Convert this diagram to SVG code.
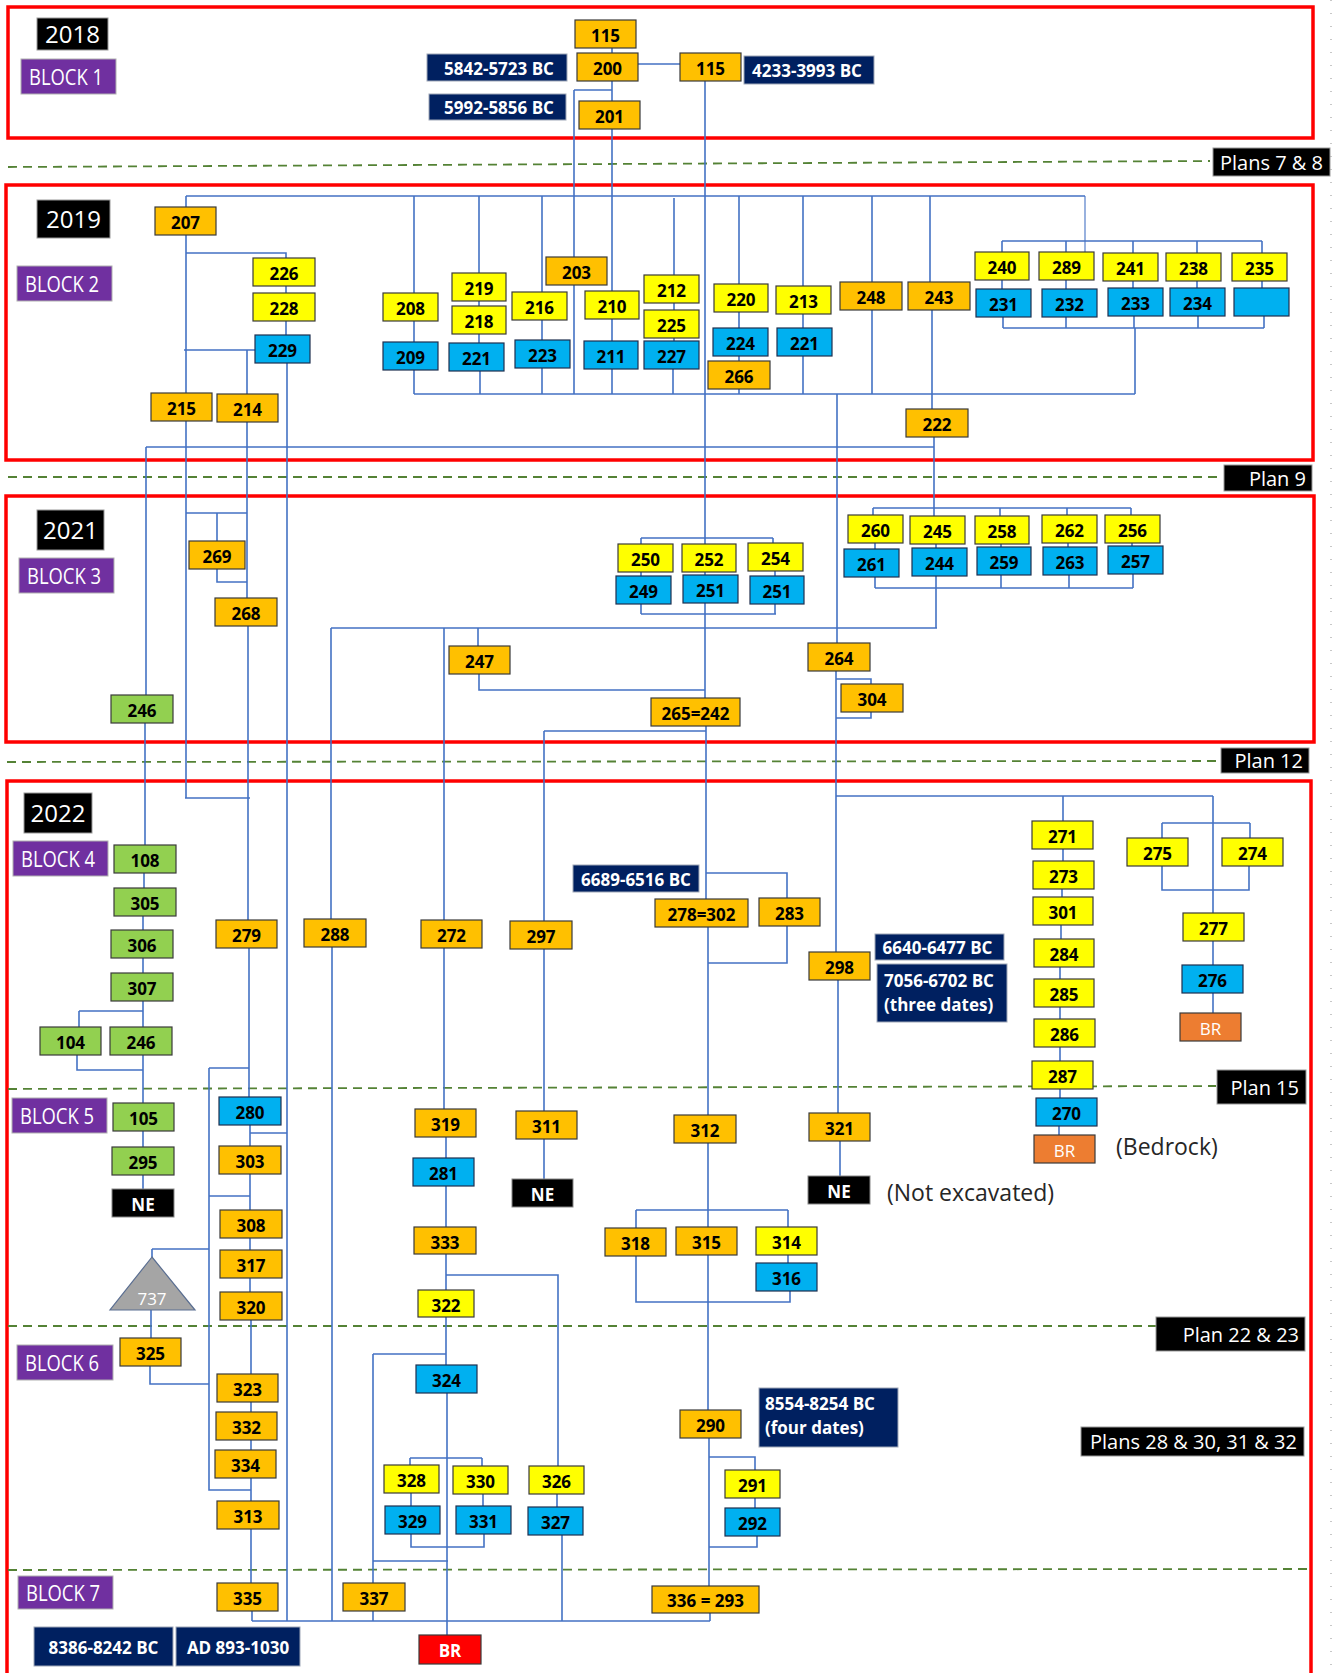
<svg xmlns="http://www.w3.org/2000/svg" width="1333" height="1673" viewBox="0 0 1333 1673">
<style>
.bg{fill:#fff}
.red{fill:none;stroke:#FF0000;stroke-width:3.5}
.dash{fill:none;stroke:#548235;stroke-width:1.8;stroke-dasharray:9 6}
.con{fill:none;stroke:#4472C4;stroke-width:1.6}
.o{fill:#FFC000;stroke:#3a3a3a;stroke-width:1.2}
.y{fill:#FFFF00;stroke:#3a3a3a;stroke-width:1.2}
.b{fill:#00B0F0;stroke:#1f2f4f;stroke-width:1.2}
.g{fill:#92D050;stroke:#3a3a3a;stroke-width:1.2}
.k{fill:#000;stroke:#888;stroke-width:1}
.br{fill:#ED7D31;stroke:#3a3a3a;stroke-width:1.2}
.brr{fill:#FF0000;stroke:#3a3a3a;stroke-width:1.2}
.d{fill:#002060;stroke:#a0a8b8;stroke-width:1}
.p{fill:#7030A0;stroke:#b0b0b0;stroke-width:1}
text{font-family:'Open Sans','Liberation Sans',sans-serif}
.t{font-weight:700;font-size:17px;text-anchor:middle;fill:#000}
.tw{font-weight:700;font-size:17px;text-anchor:middle;fill:#fff}
.tl{font-weight:700;font-size:17px;fill:#fff}
.tr{font-size:17px;text-anchor:middle;fill:#fff}
.yr{font-size:24px;text-anchor:middle;fill:#fff}
.bl{font-size:22px;text-anchor:middle;fill:#fff}
.pl{font-size:20px;text-anchor:end;fill:#fff}
.note{font-size:23px;fill:#262626}
</style>
<rect class="bg" x="0" y="0" width="1333" height="1673"/>
<g id="frames">
<rect class="red" x="8" y="7" width="1305" height="131"/>
<rect class="red" x="6" y="185" width="1307" height="275"/>
<rect class="red" x="6" y="496" width="1308" height="246"/>
<rect class="red" x="7" y="781" width="1304" height="900"/>
<line x1="1331" y1="0" x2="1331" y2="1673" stroke="#c8c8c8" stroke-width="2" stroke-dasharray="1 12"/>
</g>
<g id="plan-lines">
<line class="dash" x1="8" y1="167" x2="1210" y2="161"/>
<line class="dash" x1="8" y1="477" x2="1222" y2="477"/>
<line class="dash" x1="7" y1="762" x2="1220" y2="761"/>
<line class="dash" x1="8" y1="1089" x2="1216" y2="1086"/>
<line class="dash" x1="8" y1="1326" x2="1156" y2="1326"/>
<line class="dash" x1="8" y1="1570" x2="1311" y2="1569"/>
</g>
<g id="connectors" class="con">
<path d="M612 48V53M612 81V101M574 90H612M574 90V257M638 64H680M705 81V544M705 572V575M705 603V698M706 726V899M612 129V291"/>
<path d="M186 196H1085M186 196V207M414 196V293M479 196V273M542 196V292M674 198V275M739 196V284M803 196V286M872 196V282M930 196V282"/>
<path d="M1085 196V252" stroke-width="1.1"/>
<path d="M186 235V393M186 421V798M186 253H286V258M286 286V293M286 321V335M184 350H255M247 350V394M287 363V1621M247 422V598M186 513H247M217 513V541M217 569V582H247M248 626V920M185 798H250"/>
<path d="M414 321V342M414 370V394M414 394H1135M479 301V306M479 334V343M480 371V394M542 320V340M542 368V394M574 285V394M612 319V341M612 369V394M674 303V310M674 338V341M673 369V394M739 312V328M739 356V361M739 389V394M803 314V328M803 356V394M872 310V394M932 310V409"/>
<path d="M1002 241H1262M1002 241V252M1066 241V252M1133 241V253M1197 241V253M1262 241V253M1002 280V289M1066 280V289M1133 281V288M1197 281V288M1262 281V288M1003 317V328M1066 317V328M1134 316V328M1198 316V328M1264 316V328M1003 328H1264M1135 328V394"/>
<path d="M837 394V643M934 437V516M146 447H934M146 447V695M145 723V845"/>
<path d="M641 538H773M641 538V544M773 538V543M641 572V576M775 571V576M641 604V614M775 604V614M641 614H776"/>
<path d="M873 508H1131M873 508V515M1000 508V516M1067 508V515M1131 508V515M875 543V549M936 544V548M1001 544V547M1068 543V547M1132 543V546M875 577V588M1001 575V588M1069 575V588M1133 574V588M936 576V628M875 588H1133"/>
<path d="M331 628H937M331 628V919M332 947V1621M444 628V920M478 628V646M479 674V690H705M544 731H706M544 731V921M836 671V952M836 679H871V684M871 712V718H836"/>
<path d="M836 796H1213M1063 796V821M1213 796V913M1162 823H1250M1162 823V838M1250 823V838M1162 866V890H1249V866"/>
<path d="M144 873V888M143 916V930M143 958V973M143 1001V1027M79 1011H143M79 1011V1027M77 1055V1070H143M143 1055V1103M143 1131V1147M143 1175V1189"/>
<path d="M249 948V1097M209 1068H249M209 1068V1490H251M250 1125V1146M250 1133H287M250 1174V1210M209 1196H250M250 1238V1250M250 1278V1292M251 1320V1374M251 1402V1412M251 1440V1450M251 1478V1501M251 1529V1583M252 1611V1621M252 1621H710M152 1249H209M152 1249V1257M151 1310V1338M150 1366V1384H209"/>
<path d="M544 949V1111M544 1139V1179M444 948V1109M446 1137V1158M446 1186V1227M446 1254V1290M446 1275H558V1466M557 1494V1507M562 1535V1621M446 1317V1365M373 1354H446M373 1354V1583M373 1611V1621M447 1393V1635M410 1458H482M410 1458V1465M482 1458V1466M411 1493V1506M483 1494V1506M411 1534V1547H484V1534M373 1561H448"/>
<path d="M706 873H787V898M787 926V963H708M708 927V1115M708 1143V1227M636 1210H788M636 1210V1228M788 1210V1227M788 1255V1263M636 1256V1302H790V1291M708 1255V1410M709 1438V1586M709 1457H755V1470M755 1498V1508M757 1536V1547H709M710 1613V1621M838 980V1113M840 1141V1176"/>
<path d="M1063 849V861M1062 889V897M1061 925V939M1060 967V979M1060 1007V1019M1060 1047V1061M1060 1089V1098M1059 1126V1135M1213 941V965M1213 993V1013"/>
</g>
<g id="labels">
<g id="y2018"><rect x="37" y="18" width="71" height="32" fill="#000" stroke="#999"/><text class="yr" x="72.5" y="43" font-size="23">2018</text></g>
<g id="y2019"><rect x="37" y="200" width="73" height="38" fill="#000" stroke="#999"/><text class="yr" x="73.5" y="228">2019</text></g>
<g id="y2021"><rect x="37" y="510" width="67" height="40" fill="#000" stroke="#999"/><text class="yr" x="70.5" y="539">2021</text></g>
<g id="y2022"><rect x="24" y="793" width="68" height="40" fill="#000" stroke="#999"/><text class="yr" x="58" y="822">2022</text></g>
<g id="block1"><rect class="p" x="21" y="59" width="95" height="35"/><text class="bl" x="66" y="85" textLength="74" lengthAdjust="spacingAndGlyphs">BLOCK 1</text></g>
<g id="block2"><rect class="p" x="17" y="266" width="95" height="35"/><text class="bl" x="62" y="292" textLength="74" lengthAdjust="spacingAndGlyphs">BLOCK 2</text></g>
<g id="block3"><rect class="p" x="19" y="558" width="95" height="35"/><text class="bl" x="64" y="584" textLength="74" lengthAdjust="spacingAndGlyphs">BLOCK 3</text></g>
<g id="block4"><rect class="p" x="13" y="841" width="95" height="35"/><text class="bl" x="58" y="867" textLength="74" lengthAdjust="spacingAndGlyphs">BLOCK 4</text></g>
<g id="block5"><rect class="p" x="12" y="1098" width="95" height="35"/><text class="bl" x="57" y="1124" textLength="74" lengthAdjust="spacingAndGlyphs">BLOCK 5</text></g>
<g id="block6"><rect class="p" x="17" y="1345" width="96" height="35"/><text class="bl" x="62" y="1371" textLength="74" lengthAdjust="spacingAndGlyphs">BLOCK 6</text></g>
<g id="block7"><rect class="p" x="18" y="1576" width="95" height="33"/><text class="bl" x="63" y="1601" textLength="74" lengthAdjust="spacingAndGlyphs">BLOCK 7</text></g>
<g id="plan78"><rect x="1213" y="148" width="117" height="28" fill="#000" stroke="#999"/><text class="pl" x="1323" y="169.5">Plans 7 &amp; 8</text></g>
<g id="plan9"><rect x="1224" y="465" width="88" height="26" fill="#000" stroke="#999"/><text class="pl" x="1306" y="485.5">Plan 9</text></g>
<g id="plan12"><rect x="1221" y="748" width="88" height="25" fill="#000" stroke="#999"/><text class="pl" x="1303" y="768">Plan 12</text></g>
<g id="plan15"><rect x="1217" y="1070" width="89" height="34" fill="#000" stroke="#999"/><text class="pl" x="1299" y="1094.5" font-size="21">Plan 15</text></g>
<g id="plan2223"><rect x="1156" y="1317" width="149" height="34" fill="#000" stroke="#999"/><text class="pl" x="1299" y="1341.5">Plan 22 &amp; 23</text></g>
<g id="plan2832"><rect x="1081" y="1427" width="223" height="29" fill="#000" stroke="#999"/><text class="pl" x="1297" y="1449">Plans 28 &amp; 30, 31 &amp; 32</text></g>
<text id="note-ne" class="note" x="887" y="1201">(Not excavated)</text>
<text id="note-br" class="note" x="1116" y="1155">(Bedrock)</text>
</g>
<g id="nodes">
<g id="n115a"><rect class="o" x="575" y="20" width="61" height="28"/><text class="t" x="605.5" y="42">115</text></g>
<g id="n200"><rect class="o" x="577" y="53" width="61" height="28"/><text class="t" x="607.5" y="75">200</text></g>
<g id="n201"><rect class="o" x="579" y="101" width="61" height="28"/><text class="t" x="609.5" y="123">201</text></g>
<g id="n115b"><rect class="o" x="680" y="53" width="61" height="28"/><text class="t" x="710.5" y="75">115</text></g>
<g id="date1"><rect class="d" x="427" y="54" width="140" height="27"/><text class="tw" x="499" y="74.5">5842-5723 BC</text></g>
<g id="date2"><rect class="d" x="429" y="94" width="137" height="26"/><text class="tw" x="499" y="114">5992-5856 BC</text></g>
<g id="date3"><rect class="d" x="744" y="56" width="130" height="28"/><text class="tw" x="807" y="77">4233-3993 BC</text></g>

<g id="n207"><rect class="o" x="155" y="207" width="61" height="28"/><text class="t" x="185.5" y="229">207</text></g>
<g id="n226"><rect class="y" x="253" y="258" width="62" height="28"/><text class="t" x="284" y="280">226</text></g>
<g id="n228"><rect class="y" x="253" y="293" width="62" height="28"/><text class="t" x="284" y="315">228</text></g>
<g id="n229"><rect class="b" x="255" y="335" width="55" height="28"/><text class="t" x="282.5" y="357">229</text></g>
<g id="n215"><rect class="o" x="151" y="393" width="61" height="28"/><text class="t" x="181.5" y="415">215</text></g>
<g id="n214"><rect class="o" x="217" y="394" width="61" height="28"/><text class="t" x="247.5" y="416">214</text></g>
<g id="n208"><rect class="y" x="383" y="293" width="55" height="28"/><text class="t" x="410.5" y="315">208</text></g>
<g id="n209"><rect class="b" x="383" y="342" width="55" height="28"/><text class="t" x="410.5" y="364">209</text></g>
<g id="n219"><rect class="y" x="452" y="273" width="54" height="28"/><text class="t" x="479" y="295">219</text></g>
<g id="n218"><rect class="y" x="452" y="306" width="54" height="28"/><text class="t" x="479" y="328">218</text></g>
<g id="n221a"><rect class="b" x="449" y="343" width="55" height="28"/><text class="t" x="476.5" y="365">221</text></g>
<g id="n216"><rect class="y" x="512" y="292" width="55" height="28"/><text class="t" x="539.5" y="314">216</text></g>
<g id="n223"><rect class="b" x="515" y="340" width="55" height="28"/><text class="t" x="542.5" y="362">223</text></g>
<g id="n203"><rect class="o" x="546" y="257" width="61" height="28"/><text class="t" x="576.5" y="279">203</text></g>
<g id="n210"><rect class="y" x="585" y="291" width="54" height="28"/><text class="t" x="612" y="313">210</text></g>
<g id="n211"><rect class="b" x="584" y="341" width="54" height="28"/><text class="t" x="611" y="363">211</text></g>
<g id="n212"><rect class="y" x="644" y="275" width="55" height="28"/><text class="t" x="671.5" y="297">212</text></g>
<g id="n225"><rect class="y" x="644" y="310" width="55" height="28"/><text class="t" x="671.5" y="332">225</text></g>
<g id="n227"><rect class="b" x="644" y="341" width="55" height="28"/><text class="t" x="671.5" y="363">227</text></g>
<g id="n220"><rect class="y" x="714" y="284" width="54" height="28"/><text class="t" x="741" y="306">220</text></g>
<g id="n224"><rect class="b" x="713" y="328" width="55" height="28"/><text class="t" x="740.5" y="350">224</text></g>
<g id="n266"><rect class="o" x="708" y="361" width="62" height="28"/><text class="t" x="739" y="383">266</text></g>
<g id="n213"><rect class="y" x="776" y="286" width="55" height="28"/><text class="t" x="803.5" y="308">213</text></g>
<g id="n221b"><rect class="b" x="777" y="328" width="55" height="28"/><text class="t" x="804.5" y="350">221</text></g>
<g id="n248"><rect class="o" x="840" y="282" width="62" height="28"/><text class="t" x="871" y="304">248</text></g>
<g id="n243"><rect class="o" x="908" y="282" width="62" height="28"/><text class="t" x="939" y="304">243</text></g>
<g id="n240"><rect class="y" x="975" y="252" width="54" height="28"/><text class="t" x="1002" y="274">240</text></g>
<g id="n289"><rect class="y" x="1039" y="252" width="55" height="28"/><text class="t" x="1066.5" y="274">289</text></g>
<g id="n241"><rect class="y" x="1103" y="253" width="55" height="28"/><text class="t" x="1130.5" y="275">241</text></g>
<g id="n238"><rect class="y" x="1166" y="253" width="55" height="28"/><text class="t" x="1193.5" y="275">238</text></g>
<g id="n235"><rect class="y" x="1232" y="253" width="55" height="28"/><text class="t" x="1259.5" y="275">235</text></g>
<g id="n231"><rect class="b" x="976" y="289" width="55" height="28"/><text class="t" x="1003.5" y="311">231</text></g>
<g id="n232"><rect class="b" x="1042" y="289" width="55" height="28"/><text class="t" x="1069.5" y="311">232</text></g>
<g id="n233"><rect class="b" x="1108" y="288" width="55" height="28"/><text class="t" x="1135.5" y="310">233</text></g>
<g id="n234"><rect class="b" x="1170" y="288" width="55" height="28"/><text class="t" x="1197.5" y="310">234</text></g>
<g id="nblank"><rect class="b" x="1234" y="288" width="55" height="28"/></g>
<g id="n222"><rect class="o" x="906" y="409" width="62" height="28"/><text class="t" x="937" y="431">222</text></g>

<g id="n269"><rect class="o" x="189" y="541" width="56" height="28"/><text class="t" x="217" y="563">269</text></g>
<g id="n268"><rect class="o" x="215" y="598" width="62" height="28"/><text class="t" x="246" y="620">268</text></g>
<g id="n246a"><rect class="g" x="111" y="695" width="62" height="28"/><text class="t" x="142" y="717">246</text></g>
<g id="n250"><rect class="y" x="618" y="544" width="55" height="28"/><text class="t" x="645.5" y="566">250</text></g>
<g id="n252"><rect class="y" x="682" y="544" width="54" height="28"/><text class="t" x="709" y="566">252</text></g>
<g id="n254"><rect class="y" x="748" y="543" width="55" height="28"/><text class="t" x="775.5" y="565">254</text></g>
<g id="n249"><rect class="b" x="616" y="576" width="55" height="28"/><text class="t" x="643.5" y="598">249</text></g>
<g id="n251a"><rect class="b" x="683" y="575" width="55" height="28"/><text class="t" x="710.5" y="597">251</text></g>
<g id="n251b"><rect class="b" x="750" y="576" width="54" height="28"/><text class="t" x="777" y="598">251</text></g>
<g id="n247"><rect class="o" x="449" y="646" width="61" height="28"/><text class="t" x="479.5" y="668">247</text></g>
<g id="n265"><rect class="o" x="651" y="698" width="89" height="28"/><text class="t" x="695.5" y="720">265=242</text></g>
<g id="n264"><rect class="o" x="808" y="643" width="62" height="28"/><text class="t" x="839" y="665">264</text></g>
<g id="n304"><rect class="o" x="841" y="684" width="62" height="28"/><text class="t" x="872" y="706">304</text></g>
<g id="n260"><rect class="y" x="848" y="515" width="55" height="28"/><text class="t" x="875.5" y="537">260</text></g>
<g id="n261"><rect class="b" x="844" y="549" width="55" height="28"/><text class="t" x="871.5" y="571">261</text></g>
<g id="n245"><rect class="y" x="910" y="516" width="55" height="28"/><text class="t" x="937.5" y="538">245</text></g>
<g id="n244"><rect class="b" x="912" y="548" width="55" height="28"/><text class="t" x="939.5" y="570">244</text></g>
<g id="n258"><rect class="y" x="975" y="516" width="54" height="28"/><text class="t" x="1002" y="538">258</text></g>
<g id="n259"><rect class="b" x="977" y="547" width="54" height="28"/><text class="t" x="1004" y="569">259</text></g>
<g id="n262"><rect class="y" x="1042" y="515" width="55" height="28"/><text class="t" x="1069.5" y="537">262</text></g>
<g id="n263"><rect class="b" x="1043" y="547" width="54" height="28"/><text class="t" x="1070" y="569">263</text></g>
<g id="n256"><rect class="y" x="1105" y="515" width="55" height="28"/><text class="t" x="1132.5" y="537">256</text></g>
<g id="n257"><rect class="b" x="1108" y="546" width="55" height="28"/><text class="t" x="1135.5" y="568">257</text></g>

<g id="n108"><rect class="g" x="114" y="845" width="62" height="28"/><text class="t" x="145" y="867">108</text></g>
<g id="n305"><rect class="g" x="114" y="888" width="62" height="28"/><text class="t" x="145" y="910">305</text></g>
<g id="n306"><rect class="g" x="111" y="930" width="62" height="28"/><text class="t" x="142" y="952">306</text></g>
<g id="n307"><rect class="g" x="111" y="973" width="62" height="28"/><text class="t" x="142" y="995">307</text></g>
<g id="n104"><rect class="g" x="40" y="1027" width="61" height="28"/><text class="t" x="70.5" y="1049">104</text></g>
<g id="n246b"><rect class="g" x="110" y="1027" width="62" height="28"/><text class="t" x="141" y="1049">246</text></g>
<g id="n105"><rect class="g" x="113" y="1103" width="61" height="28"/><text class="t" x="143.5" y="1125">105</text></g>
<g id="n295"><rect class="g" x="112" y="1147" width="62" height="28"/><text class="t" x="143" y="1169">295</text></g>
<g id="ne1"><rect class="k" x="112" y="1189" width="62" height="28"/><text class="tw" x="143" y="1211">NE</text></g>
<g id="n279"><rect class="o" x="216" y="920" width="61" height="28"/><text class="t" x="246.5" y="942">279</text></g>
<g id="n288"><rect class="o" x="304" y="919" width="62" height="28"/><text class="t" x="335" y="941">288</text></g>
<g id="n280"><rect class="b" x="219" y="1097" width="62" height="28"/><text class="t" x="250" y="1119">280</text></g>
<g id="n303"><rect class="o" x="219" y="1146" width="62" height="28"/><text class="t" x="250" y="1168">303</text></g>
<g id="n308"><rect class="o" x="220" y="1210" width="62" height="28"/><text class="t" x="251" y="1232">308</text></g>
<g id="n317"><rect class="o" x="220" y="1250" width="62" height="28"/><text class="t" x="251" y="1272">317</text></g>
<g id="n320"><rect class="o" x="220" y="1292" width="62" height="28"/><text class="t" x="251" y="1314">320</text></g>
<g id="n737"><polygon points="152,1257 110,1310 195,1310" fill="#A5A5A5" stroke="#5a6e91" stroke-width="1.2"/><text class="tr" x="152" y="1305">737</text></g>
<g id="n325"><rect class="o" x="120" y="1338" width="61" height="28"/><text class="t" x="150.5" y="1360">325</text></g>
<g id="n323"><rect class="o" x="217" y="1374" width="61" height="28"/><text class="t" x="247.5" y="1396">323</text></g>
<g id="n332"><rect class="o" x="216" y="1412" width="61" height="28"/><text class="t" x="246.5" y="1434">332</text></g>
<g id="n334"><rect class="o" x="215" y="1450" width="61" height="28"/><text class="t" x="245.5" y="1472">334</text></g>
<g id="n313"><rect class="o" x="217" y="1501" width="62" height="28"/><text class="t" x="248" y="1523">313</text></g>
<g id="n335"><rect class="o" x="217" y="1583" width="61" height="28"/><text class="t" x="247.5" y="1605">335</text></g>
<g id="n337"><rect class="o" x="343" y="1583" width="62" height="28"/><text class="t" x="374" y="1605">337</text></g>
<g id="date8386"><rect class="d" x="34" y="1627" width="139" height="39"/><text class="tw" x="103.5" y="1653.5" font-size="18">8386-8242 BC</text></g>
<g id="dateAD"><rect class="d" x="176" y="1627" width="124" height="39"/><text class="tw" x="238" y="1653.5" font-size="18">AD 893-1030</text></g>
<g id="br-red"><rect class="brr" x="419" y="1635" width="62" height="29"/><text class="tw" x="450" y="1657">BR</text></g>
<g id="n272"><rect class="o" x="421" y="920" width="61" height="28"/><text class="t" x="451.5" y="942">272</text></g>
<g id="n319"><rect class="o" x="415" y="1109" width="61" height="28"/><text class="t" x="445.5" y="1131">319</text></g>
<g id="n281"><rect class="b" x="413" y="1158" width="61" height="28"/><text class="t" x="443.5" y="1180">281</text></g>
<g id="n333"><rect class="o" x="414" y="1227" width="62" height="27"/><text class="t" x="445" y="1248.5">333</text></g>
<g id="n322"><rect class="y" x="418" y="1290" width="56" height="27"/><text class="t" x="446" y="1311.5">322</text></g>
<g id="n324"><rect class="b" x="416" y="1365" width="61" height="28"/><text class="t" x="446.5" y="1387">324</text></g>
<g id="n328"><rect class="y" x="384" y="1465" width="55" height="28"/><text class="t" x="411.5" y="1487">328</text></g>
<g id="n329"><rect class="b" x="385" y="1506" width="55" height="28"/><text class="t" x="412.5" y="1528">329</text></g>
<g id="n330"><rect class="y" x="453" y="1466" width="55" height="28"/><text class="t" x="480.5" y="1488">330</text></g>
<g id="n331"><rect class="b" x="456" y="1506" width="55" height="28"/><text class="t" x="483.5" y="1528">331</text></g>
<g id="n326"><rect class="y" x="529" y="1466" width="55" height="28"/><text class="t" x="556.5" y="1488">326</text></g>
<g id="n327"><rect class="b" x="528" y="1507" width="55" height="28"/><text class="t" x="555.5" y="1529">327</text></g>
<g id="n297"><rect class="o" x="510" y="921" width="62" height="28"/><text class="t" x="541" y="943">297</text></g>
<g id="n311"><rect class="o" x="516" y="1111" width="61" height="28"/><text class="t" x="546.5" y="1133">311</text></g>
<g id="ne2"><rect class="k" x="512" y="1179" width="61" height="28"/><text class="tw" x="542.5" y="1201">NE</text></g>
<g id="date6689"><rect class="d" x="573" y="865" width="126" height="27"/><text class="tw" x="636" y="885.5">6689-6516 BC</text></g>
<g id="n278"><rect class="o" x="655" y="899" width="93" height="28"/><text class="t" x="701.5" y="921">278=302</text></g>
<g id="n283"><rect class="o" x="759" y="898" width="61" height="28"/><text class="t" x="789.5" y="920">283</text></g>
<g id="n312"><rect class="o" x="674" y="1115" width="62" height="28"/><text class="t" x="705" y="1137">312</text></g>
<g id="n318"><rect class="o" x="605" y="1228" width="61" height="28"/><text class="t" x="635.5" y="1250">318</text></g>
<g id="n315"><rect class="o" x="676" y="1227" width="61" height="28"/><text class="t" x="706.5" y="1249">315</text></g>
<g id="n314"><rect class="y" x="756" y="1227" width="61" height="28"/><text class="t" x="786.5" y="1249">314</text></g>
<g id="n316"><rect class="b" x="756" y="1263" width="61" height="28"/><text class="t" x="786.5" y="1285">316</text></g>
<g id="n290"><rect class="o" x="680" y="1410" width="61" height="28"/><text class="t" x="710.5" y="1432">290</text></g>
<g id="date8554"><rect class="d" x="759" y="1388" width="139" height="59"/><text class="tl" x="765" y="1410">8554-8254 BC</text><text class="tl" x="765" y="1434">(four dates)</text></g>
<g id="n291"><rect class="y" x="725" y="1470" width="55" height="28"/><text class="t" x="752.5" y="1492">291</text></g>
<g id="n292"><rect class="b" x="725" y="1508" width="55" height="28"/><text class="t" x="752.5" y="1530">292</text></g>
<g id="n336"><rect class="o" x="652" y="1586" width="107" height="27"/><text class="t" x="705.5" y="1607">336 = 293</text></g>
<g id="n298"><rect class="o" x="809" y="952" width="61" height="28"/><text class="t" x="839.5" y="974">298</text></g>
<g id="date6640"><rect class="d" x="875" y="934" width="129" height="26"/><text class="tw" x="937.5" y="954">6640-6477 BC</text></g>
<g id="date7056"><rect class="d" x="877" y="964" width="130" height="58"/><text class="tl" x="884" y="987">7056-6702 BC</text><text class="tl" x="884" y="1011">(three dates)</text></g>
<g id="n321"><rect class="o" x="809" y="1113" width="61" height="28"/><text class="t" x="839.5" y="1135">321</text></g>
<g id="ne3"><rect class="k" x="808" y="1176" width="62" height="28"/><text class="tw" x="839" y="1198">NE</text></g>
<g id="n271"><rect class="y" x="1032" y="821" width="61" height="28"/><text class="t" x="1062.5" y="843">271</text></g>
<g id="n273"><rect class="y" x="1033" y="861" width="61" height="28"/><text class="t" x="1063.5" y="883">273</text></g>
<g id="n301"><rect class="y" x="1033" y="897" width="60" height="28"/><text class="t" x="1063" y="919">301</text></g>
<g id="n284"><rect class="y" x="1034" y="939" width="60" height="28"/><text class="t" x="1064" y="961">284</text></g>
<g id="n285"><rect class="y" x="1034" y="979" width="60" height="28"/><text class="t" x="1064" y="1001">285</text></g>
<g id="n286"><rect class="y" x="1034" y="1019" width="61" height="28"/><text class="t" x="1064.5" y="1041">286</text></g>
<g id="n287"><rect class="y" x="1032" y="1061" width="61" height="28"/><text class="t" x="1062.5" y="1083">287</text></g>
<g id="n270"><rect class="b" x="1036" y="1098" width="61" height="28"/><text class="t" x="1066.5" y="1120">270</text></g>
<g id="br1"><rect class="br" x="1034" y="1135" width="61" height="28"/><text class="tr" x="1064.5" y="1157">BR</text></g>
<g id="n275"><rect class="y" x="1127" y="838" width="61" height="28"/><text class="t" x="1157.5" y="860">275</text></g>
<g id="n274"><rect class="y" x="1222" y="838" width="61" height="28"/><text class="t" x="1252.5" y="860">274</text></g>
<g id="n277"><rect class="y" x="1183" y="913" width="61" height="28"/><text class="t" x="1213.5" y="935">277</text></g>
<g id="n276"><rect class="b" x="1182" y="965" width="61" height="28"/><text class="t" x="1212.5" y="987">276</text></g>
<g id="br2"><rect class="br" x="1180" y="1013" width="61" height="28"/><text class="tr" x="1210.5" y="1035">BR</text></g>
</g>
</svg>
